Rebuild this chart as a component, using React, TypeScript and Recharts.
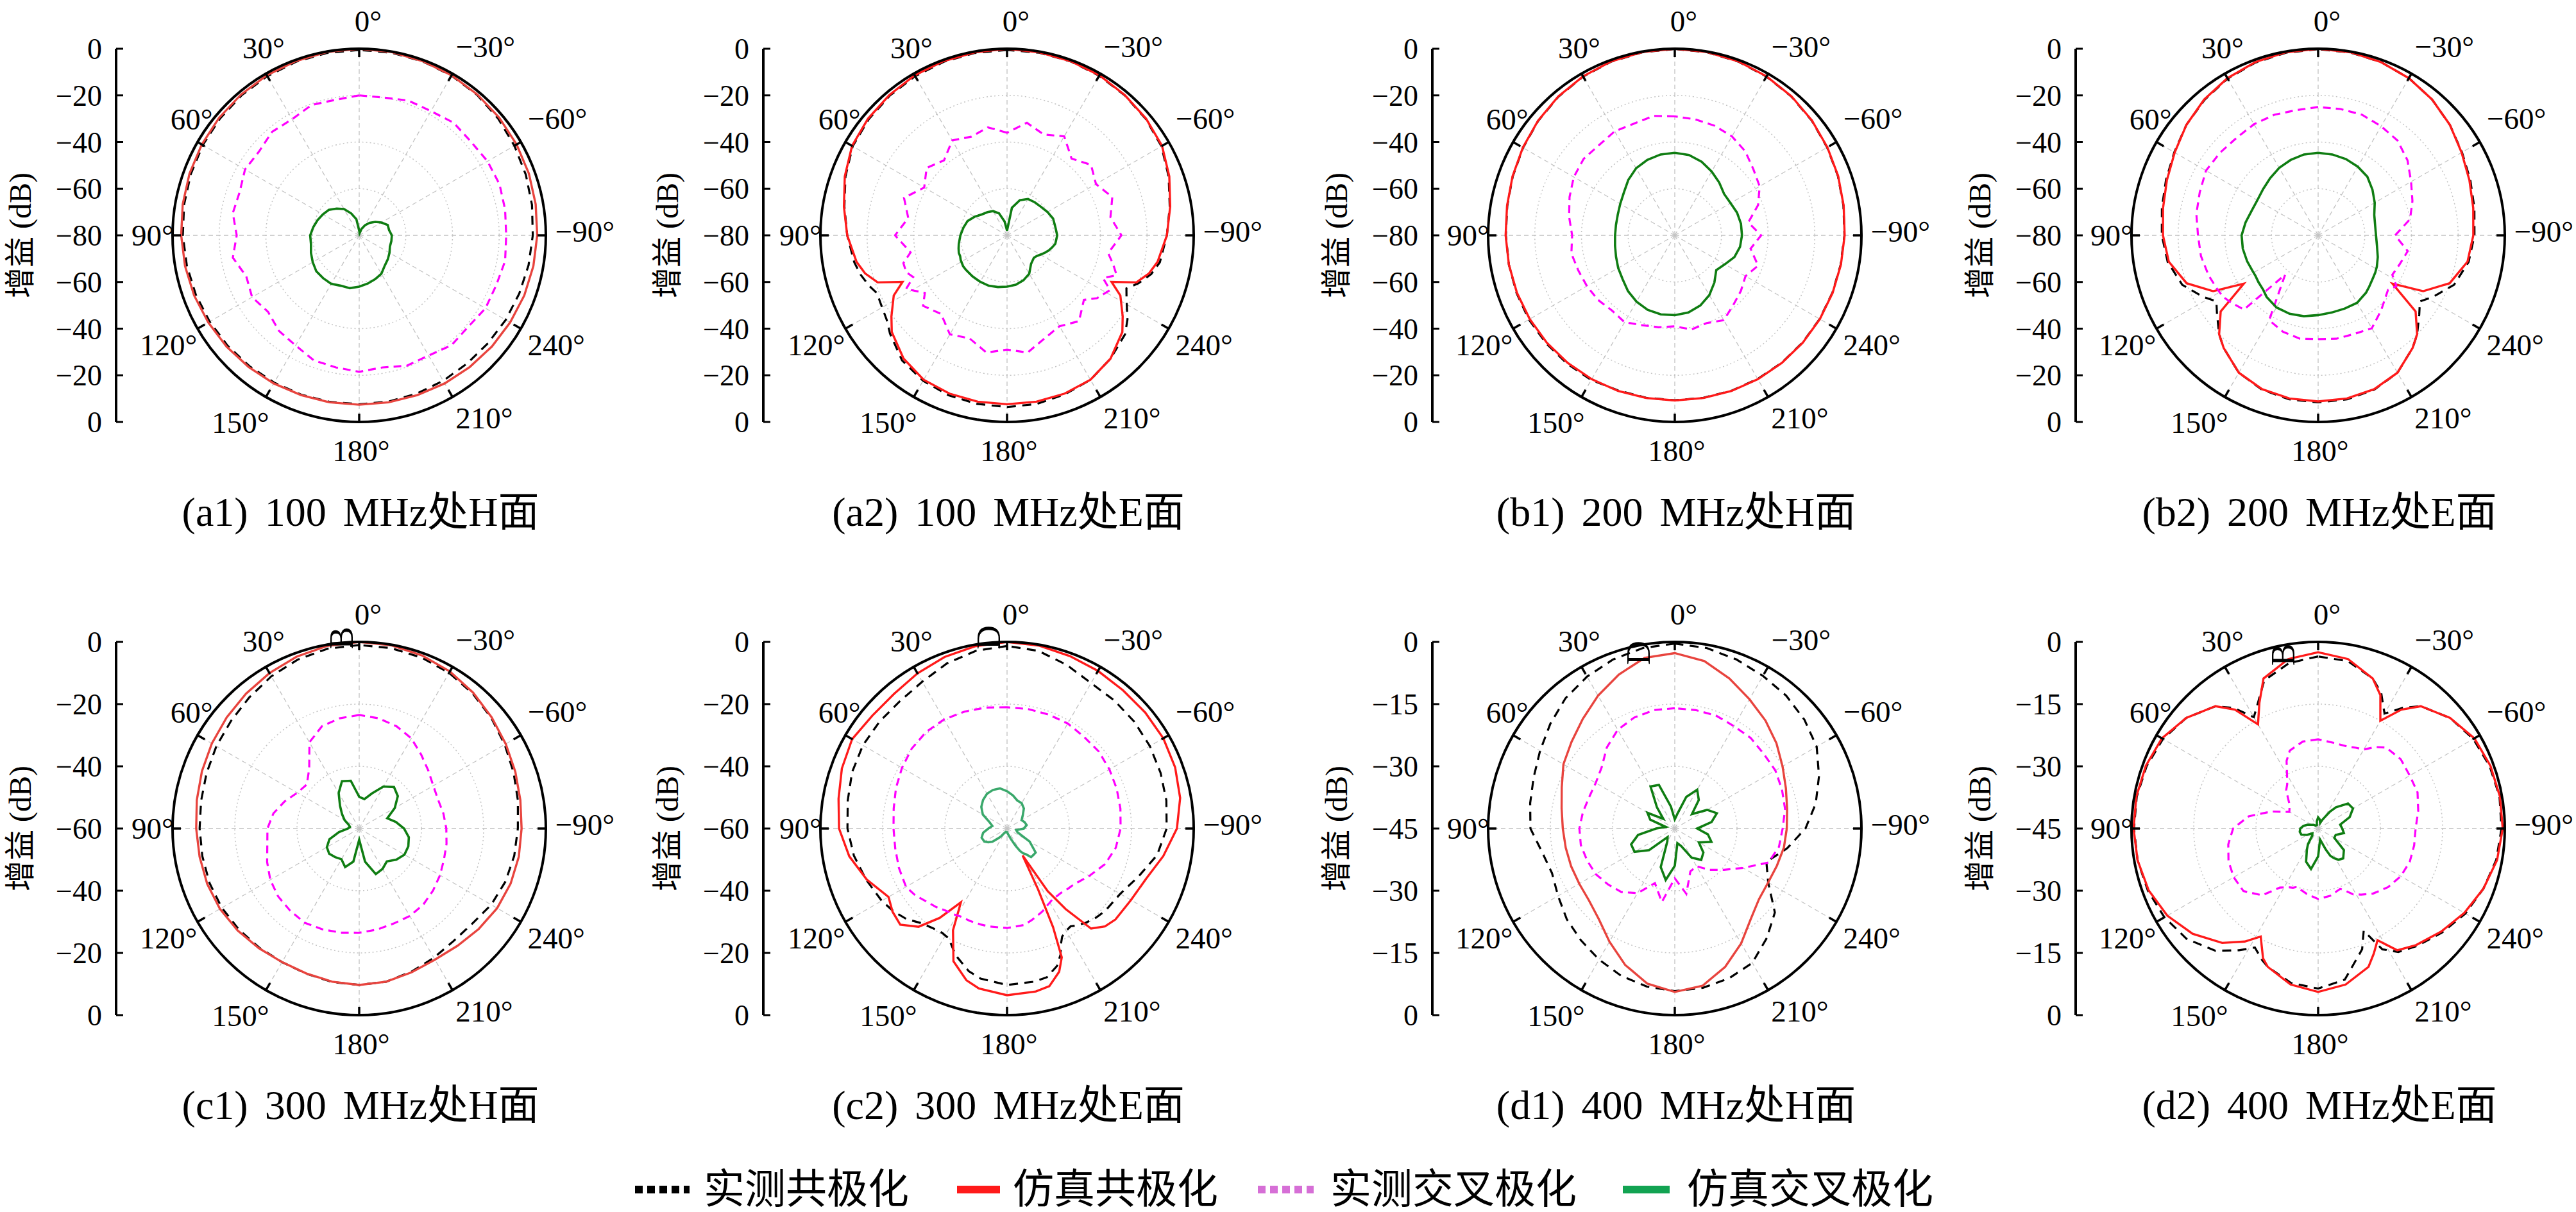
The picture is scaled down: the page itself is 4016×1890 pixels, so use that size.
import React from 'react';
import {
  RadarChart,
  Radar,
  PolarGrid,
  PolarAngleAxis,
  PolarRadiusAxis,
  LineChart,
  XAxis,
  YAxis,
} from 'recharts';

const FONT = "'Liberation Serif', 'DejaVu Serif', 'Noto Sans CJK SC', serif";
const R = 291;
const BOX = 920;
const C = BOX / 2;
const AXW = 180;
const TOPM = 40;

const COL_CX = [560, 1570, 2611, 3614];
const COL_AX = [181, 1190, 2233, 3236];
const ROW_CY = [367, 1292];

const ANGLE_TICKS = [0, 30, 60, 90, 120, 150, 180, 210, 240, 270, 300, 330];
const ANGLE_LABELS = ['0°', '30°', '60°', '90°', '120°', '150°', '180°', '210°', '240°', '−90°', '−60°', '−30°'];
const LABEL_NUDGE = [[14, 0], [18, -3], [28, -14], [12, 0], [-8, 4], [-18, 2], [3, 2], [28, -5], [18, 4], [18, -6], [20, -15], [30, -5]];

const RINGS_AB = [-60, -40, -20];
const RINGS_C = [-40, -20];
const RINGS_D = [-30, -15];
const LEFT_AB = [-80, -60, -40, -20, 0, 20, 40, 60, 80];
const LEFT_C = [-60, -40, -20, 0, 20, 40, 60];
const LEFT_D = [-45, -30, -15, 0, 15, 30, 45];

const ANG10 = [0, 10, 20, 30, 40, 50, 60, 70, 80, 90, 100, 110, 120, 130, 140, 150, 160, 170, 180, 190, 200, 210, 220, 230, 240, 250, 260, 270, 280, 290, 300, 310, 320, 330, 340, 350];

// (a1) 100 MHz H
const a1MeasCo = [-0.5, -0.6, -0.8, -1.2, -1.6, -2.1, -2.6, -3.2, -3.8, -4.4, -5, -5.5, -6, -6.4, -6.8, -7.1, -7.3, -7.5, -7.6, -7.6, -7.8, -8, -8.2, -8, -7.5, -7, -6.3, -5.6, -4.8, -4, -3.2, -2.2, -1.4, -0.9, -0.6, -0.5];
const a1SimCo = [0, -0.2, -0.5, -0.8, -1.2, -1.6, -2.1, -2.6, -3.2, -3.7, -4.2, -4.7, -5.3, -5.8, -6.3, -6.7, -7.1, -7.3, -7.4, -7.3, -7.1, -6.7, -6.3, -5.8, -5.3, -4.7, -4.2, -3.7, -3.2, -2.6, -2.1, -1.6, -1.2, -0.8, -0.5, -0.2];
const a1MeasX = [-20, -21, -20.5, -22.5, -22, -24, -23.5, -25.5, -25, -27.5, -25, -28.5, -27, -29, -26.5, -25.5, -23, -22.5, -21.5, -22.5, -20.5, -20.5, -18.5, -19, -17.5, -17.5, -16.5, -17, -16.5, -16, -16.5, -17.5, -17, -18.5, -18.5, -20];
const a1SimX = [-78, -73, -70, -67, -65, -63, -62, -61, -60, -59, -59, -58, -57, -56, -56, -56, -57, -57, -58, -59, -60, -61, -63, -64, -65, -66, -66, -66, -67, -67, -69, -71, -73, -75, -77, -79];

// (a2) 100 MHz E
const a2Ang = [0, 10, 20, 30, 40, 50, 60, 70, 80, 90, 100, 105, 110, 114, 118, 125, 130, 140, 150, 160, 170, 180, 190, 200, 210, 220, 230, 235, 242, 246, 250, 255, 260, 270, 280, 290, 300, 310, 320, 330, 340, 350];
const a2MeasCo = [-0.5, -0.6, -0.8, -1.2, -1.8, -2.6, -3.6, -6.3, -9.2, -11.5, -13.5, -15, -17, -19, -18.5, -17, -14.5, -10, -8, -7, -6.6, -6.4, -6.6, -7.5, -8.5, -11, -14, -17, -22, -24, -20, -16, -13.5, -11.5, -9.2, -6.3, -3.6, -2.4, -1.6, -1, -0.6, -0.5];
const a2SimCo = [0, -0.3, -0.5, -0.8, -1.5, -2.2, -3.3, -6, -9, -11.5, -14.5, -17, -21, -31, -25, -19.5, -15.5, -11, -8.5, -7.8, -7.6, -7.6, -7.6, -7.8, -8.5, -11, -15.5, -19.5, -25, -31, -21, -17, -14.5, -11.5, -9, -6, -3.3, -2.2, -1.5, -0.8, -0.5, -0.3];
const a2MeasX = [-36, -33, -35, -33, -38, -35, -39, -33, -37, -32, -38, -34, -34, -36, -31, -37, -33, -36, -31, -33, -29, -31, -29, -33, -35, -32, -37, -33, -30, -35, -30, -33, -36, -31, -35, -32, -36, -33, -37, -31, -34, -31];
const a2SimX = [-78, -74, -70, -68, -67, -66, -64, -62, -61, -60, -59, -58.5, -58, -58, -57.5, -57, -57, -57, -57, -57, -57.5, -58, -58.5, -59.5, -61, -64, -65, -64.5, -63, -62, -61, -60, -59, -58.5, -59, -59, -60, -61, -61.5, -62, -64, -68];

// (b1) 200 MHz H
const b1MeasCo = [-0.1, -0.3, -0.7, -1.4, -2.4, -3.6, -4.9, -6.1, -7.1, -7.6, -7.8, -7.8, -7.8, -8, -8.2, -8.4, -9.2, -9.3, -9.3, -9.3, -9.1, -8.9, -8.7, -8.5, -8.3, -8.1, -7.8, -7.3, -6.6, -5.6, -4.6, -3.4, -2.3, -1.4, -0.7, -0.3];
const b1SimCo = [0, -0.2, -0.6, -1.3, -2.3, -3.5, -4.8, -6, -7, -7.5, -7.8, -8, -8.2, -8.4, -8.6, -8.8, -9, -9.2, -9.2, -9.2, -9, -8.8, -8.6, -8.4, -8.2, -8, -7.7, -7.2, -6.5, -5.5, -4.5, -3.3, -2.2, -1.3, -0.6, -0.2];
const b1MeasX = [-29, -28, -29, -28.5, -29.5, -29, -30, -32, -34, -36, -35, -36, -36.5, -37, -38, -37, -39, -40, -41, -39, -40, -38, -41, -43, -45, -42, -47, -43, -48, -42, -38, -36, -33, -31, -30, -29.5];
const b1SimX = [-44.6, -44.8, -45.6, -46.8, -49, -51.5, -53, -54, -54.4, -54.4, -54, -53.2, -52, -50.8, -48.8, -47.2, -46, -45.6, -45.8, -46.4, -48, -50.4, -53.6, -56.8, -55.2, -52.8, -51.6, -51.2, -51.2, -51.6, -52.4, -52.4, -50.4, -48.4, -46.4, -45];

// (b2) 200 MHz E
const b2Ang = [0, 10, 20, 30, 40, 50, 60, 70, 80, 90, 100, 110, 118, 123, 128, 135, 140, 150, 160, 170, 180, 190, 200, 210, 220, 225, 232, 237, 242, 250, 260, 270, 280, 290, 300, 310, 320, 330, 340, 350];
const b2MeasCo = [-0.2, -0.5, -1.2, -2.4, -4.2, -6.3, -8.8, -10.6, -12, -13, -14.5, -18, -24, -28, -25, -20, -17, -12, -9.6, -8.6, -8.4, -8.6, -9.6, -12, -17, -20, -25, -28, -24, -18, -14.5, -13, -12, -10.6, -8.8, -6.3, -4, -2.2, -1, -0.4];
const b2SimCo = [0, -0.3, -1, -2.2, -4, -6.3, -9, -11, -12.5, -13.5, -15, -20, -29, -42, -27, -20, -17, -12, -9.8, -9, -8.8, -9, -9.8, -12, -17, -20, -27, -42, -29, -20, -15, -13.5, -12.5, -11, -9, -6.3, -4, -2.2, -1, -0.3];
const b2MeasX = [-25, -25.5, -25, -25, -25.5, -25, -24.5, -26, -27, -28.5, -29, -30, -31, -31.5, -33, -35, -58, -38, -36, -35, -35.5, -35, -35, -34, -38, -40, -42, -40, -44, -43, -41, -47, -40, -37, -34, -30, -27, -26, -25, -25];
const b2SimX = [-44.6, -44.8, -45.6, -46.6, -48, -49.2, -49.9, -49.6, -48.4, -47.2, -47.2, -47.6, -48, -48, -47.5, -46.8, -45.6, -44.3, -44.2, -44.8, -45.8, -46.4, -46.6, -46.6, -48, -49, -50.2, -50.8, -51.5, -52.8, -54.4, -55.2, -55.2, -54.4, -52, -49.6, -47.2, -46, -45.2, -44.8];

// (c1) 300 MHz H
const c1MeasCo = [-1, -1.3, -2.2, -3.5, -5, -6.2, -7, -7.8, -8.4, -8.7, -8.8, -8.8, -9, -9.5, -10, -10.4, -10.3, -9.9, -9.7, -10, -11, -12, -12.8, -12.5, -11, -10, -9.4, -9, -8.2, -7.2, -6, -4.6, -3.3, -2.2, -1.5, -1.1];
const c1SimCo = [0, -0.4, -1.2, -2.3, -3.4, -4.4, -5.3, -6.2, -7, -7.6, -7.9, -8, -8.3, -9, -9.8, -10.4, -10.4, -10, -9.7, -10, -10.8, -11.3, -10.8, -9.8, -8.8, -8.2, -7.9, -7.8, -7.4, -6.6, -5.6, -4.4, -3, -1.7, -0.8, -0.2];
const c1MeasX = [-23.5, -24, -25, -28, -35, -38, -37, -34.5, -32, -30.5, -30, -28.5, -27, -26, -25.5, -25, -25.5, -26, -26.5, -27, -27.5, -27.5, -28, -29, -30, -31, -31.5, -32, -32.5, -33, -32.5, -31, -29, -26.5, -25, -24];
const c1SimX = [-49.8, -44.4, -43.8, -46.8, -50.4, -52.8, -54.6, -56.4, -57, -56.4, -53.4, -49.8, -48, -47.4, -48, -48.6, -46.8, -49.2, -56.4, -49.2, -44.4, -45, -46.2, -44.4, -43.2, -43.2, -43.8, -45.6, -48, -50.4, -46.8, -43.8, -42.6, -44.4, -48, -50.4];

// (c2) 300 MHz E
const c2Ang = [0, 10, 20, 30, 40, 50, 60, 70, 80, 90, 100, 110, 120, 126, 132, 138, 143, 148, 152, 158, 165, 170, 180, 190, 195, 200, 203, 205, 207, 210, 213, 216, 220, 225, 230, 240, 250, 260, 270, 280, 290, 300, 310, 320, 330, 340, 350];
const c2MeasCo = [-1.3, -2, -3.5, -5.5, -6.5, -6.5, -6.5, -7, -8, -8.7, -10, -11.8, -13.5, -14.8, -16.5, -19, -20, -20.5, -20, -16, -12.5, -11, -9.7, -10, -10.5, -13, -16, -19, -21, -22, -22.5, -21.5, -20.5, -19.5, -18.8, -18, -15, -11, -8.7, -8, -7.5, -7, -6.6, -6.3, -6, -4, -2];
const c2SimCo = [0, -0.5, -1.3, -2.4, -3.5, -3.5, -2.5, -3.5, -5, -6, -8.5, -12, -16, -14.5, -13.8, -17.5, -24, -32, -23, -14, -9.5, -7.8, -6.4, -6.8, -7.5, -11, -15, -25, -38, -50, -36, -28, -18, -15.5, -14.5, -14, -12.5, -9, -5.4, -3.5, -2.5, -2, -2, -2, -1.5, -1, -0.3];
const c2MeasX = [-21, -20.5, -20, -19.5, -19.5, -20, -21, -22, -23, -23.5, -23.5, -23, -22.5, -23.5, -25, -26, -27, -27.5, -28, -28, -28, -28, -28, -28.5, -29.5, -30.5, -31, -31.5, -32, -32.5, -33, -33, -33, -32.5, -32, -29.5, -26.5, -24.5, -23.5, -23, -22.5, -22, -21.5, -21.5, -21, -21, -21];
const c2SimX = [-48, -46.9, -46.8, -47.1, -48, -49.2, -51, -54, -55.2, -54, -52.2, -51.3, -51.6, -52.5, -53.7, -55.8, -57, -58.2, -58.5, -58.8, -58.8, -58.8, -58.8, -58.2, -57.6, -56.4, -55.5, -54.5, -53.5, -51.6, -50.5, -49.8, -48, -48, -48, -51.6, -56.4, -57, -54.6, -53.6, -54, -54.6, -53.4, -51.6, -50.6, -50.4, -49.2];

// (d1) 400 MHz H
const d1MeasCo = [-0.4, -0.8, -1.6, -2.7, -4, -5.8, -7.5, -8.8, -9.6, -10.2, -12.5, -13.5, -12.5, -11, -9.8, -8.5, -7.2, -6.3, -5.8, -6, -6.6, -7.6, -10.5, -13.5, -19, -21.5, -17.5, -13.5, -10.5, -8, -5.5, -4.2, -3.2, -2.5, -1.6, -0.8];
const d1SimCo = [-2.7, -3.2, -5.5, -8, -10.5, -12.5, -14, -16, -17.3, -18, -18.3, -18.4, -18.4, -18, -16.5, -13.5, -10, -7, -5.6, -6.5, -9.5, -13, -16.5, -18.5, -19, -18.8, -18.3, -18, -17.5, -16.5, -15, -13, -11, -9, -6.5, -4];
const d1MeasX = [-16, -16, -16.5, -17.5, -19.5, -22, -23, -23, -22.5, -22, -22, -22.5, -23, -24, -25, -27, -31, -27, -33, -29, -34, -34.5, -32, -29.5, -26, -21, -19.5, -19, -18, -17.5, -17, -17, -16.5, -16.5, -16, -16];
const d1SimX = [-42.8, -39.6, -33.8, -33.3, -38.3, -41.4, -37.4, -38.7, -42.8, -40.5, -36, -33.8, -33.8, -36.9, -42.3, -41.4, -35.1, -32.4, -36, -41.4, -40.5, -36.9, -35.1, -36, -38.3, -35.6, -36.9, -39.6, -36, -34.2, -36, -39.6, -36, -34.2, -36.9, -41.4];

// (d2) 400 MHz E
const d2Ang = [0, 10, 20, 25, 30, 35, 40, 50, 60, 70, 80, 90, 100, 110, 120, 130, 140, 147, 152, 157, 160, 170, 180, 190, 200, 204, 208, 213, 220, 230, 240, 250, 260, 270, 280, 290, 300, 310, 320, 325, 330, 335, 340, 350];
const d2MeasCo = [-3.5, -4.5, -7, -11, -14, -9.5, -6.5, -3.5, -1.8, -1, -0.6, -0.6, -0.8, -1.3, -2.2, -3.6, -6.5, -10, -12.5, -10.5, -9.5, -7.2, -6.4, -8, -14, -18, -12, -9.5, -8, -6, -4, -2.6, -1.4, -0.8, -0.6, -1, -1.8, -3.5, -6.5, -9.5, -13, -9, -6.5, -4];
const d2SimCo = [-2.5, -3.5, -6.5, -11.5, -16, -10, -6.5, -3.5, -1.5, -0.8, -0.5, -0.5, -0.8, -1.5, -3, -5.5, -9, -12.5, -15.5, -11, -9.5, -6.8, -5.6, -6.8, -9.5, -12, -14.5, -10, -8.3, -6.3, -4.3, -2.6, -1.2, -0.5, -0.5, -0.8, -1.5, -3.5, -6.5, -10, -15, -9.5, -6.5, -3.5];
const d2MeasX = [-23.5, -23.7, -25, -27, -30, -32, -33, -36, -37, -33, -28, -24.5, -23, -22, -21.5, -21.5, -24, -28, -29, -29.5, -30, -29, -28, -28.5, -29.5, -28.5, -27, -26, -24.5, -23, -22, -21.5, -21.5, -21.5, -20.5, -19.5, -19.5, -19, -19.5, -21, -23, -23.5, -24, -24];
const d2SimX = [-42.3, -43.2, -44.1, -44.1, -44.1, -44.1, -44.1, -43.6, -43.2, -42.3, -41.4, -40.7, -40.5, -40.7, -41.9, -43.2, -42.8, -40.5, -39.2, -37.8, -36.5, -35.1, -38.3, -42.3, -39.6, -37.8, -36.9, -36, -35.6, -36.9, -40.5, -40.5, -38.7, -39.2, -39.6, -36.9, -35.3, -35.6, -38.3, -40, -41.9, -42.8, -43.6, -42.8];

const RED = '#ff1a1a';
const RED_LIGHT = '#e8443e';
const GREEN = '#0f7d12';
const GREEN_LIGHT = '#3aa86b';
const MAGENTA = '#ff00ff';

interface Panel {
  title: string;
  min: number;
  rings: number[];
  left: number[];
  angles: number[];
  measCo: number[];
  simCo: number[];
  measX: number[];
  simX: number[];
  red: string;
  green: string;
  stray?: { ch: string; dx: number; dy: number };
}

const panels: Panel[] = [
  { title: '(a1) 100 MHz处H面', min: -80, rings: RINGS_AB, left: LEFT_AB, angles: ANG10, measCo: a1MeasCo, simCo: a1SimCo, measX: a1MeasX, simX: a1SimX, red: RED_LIGHT, green: GREEN },
  { title: '(a2) 100 MHz处E面', min: -80, rings: RINGS_AB, left: LEFT_AB, angles: a2Ang, measCo: a2MeasCo, simCo: a2SimCo, measX: a2MeasX, simX: a2SimX, red: RED, green: GREEN },
  { title: '(b1) 200 MHz处H面', min: -80, rings: RINGS_AB, left: LEFT_AB, angles: ANG10, measCo: b1MeasCo, simCo: b1SimCo, measX: b1MeasX, simX: b1SimX, red: RED, green: GREEN },
  { title: '(b2) 200 MHz处E面', min: -80, rings: RINGS_AB, left: LEFT_AB, angles: b2Ang, measCo: b2MeasCo, simCo: b2SimCo, measX: b2MeasX, simX: b2SimX, red: RED, green: GREEN },
  { title: '(c1) 300 MHz处H面', min: -60, rings: RINGS_C, left: LEFT_C, angles: ANG10, measCo: c1MeasCo, simCo: c1SimCo, measX: c1MeasX, simX: c1SimX, red: RED_LIGHT, green: GREEN, stray: { ch: 'B', dx: -27, dy: -297 } },
  { title: '(c2) 300 MHz处E面', min: -60, rings: RINGS_C, left: LEFT_C, angles: c2Ang, measCo: c2MeasCo, simCo: c2SimCo, measX: c2MeasX, simX: c2SimX, red: RED, green: GREEN_LIGHT, stray: { ch: 'D', dx: -28, dy: -298 } },
  { title: '(d1) 400 MHz处H面', min: -45, rings: RINGS_D, left: LEFT_D, angles: ANG10, measCo: d1MeasCo, simCo: d1SimCo, measX: d1MeasX, simX: d1SimX, red: RED_LIGHT, green: GREEN, stray: { ch: 'D', dx: -56, dy: -274 } },
  { title: '(d2) 400 MHz处E面', min: -45, rings: RINGS_D, left: LEFT_D, angles: d2Ang, measCo: d2MeasCo, simCo: d2SimCo, measX: d2MeasX, simX: d2SimX, red: RED, green: GREEN, stray: { ch: 'B', dx: -54, dy: -271 } },
];

const fmt = (n: number) => (n === 0 ? '0' : `−${Math.abs(n)}`);

const AngleTick = (props: any) => {
  const v = props.payload?.value;
  const i = ANGLE_TICKS.indexOf(v);
  if (i < 0) return null;
  const rad = ((90 + v) * Math.PI) / 180;
  const ox = Math.cos(rad);
  const oy = -Math.sin(rad);
  const [nx, ny] = LABEL_NUDGE[i];
  return (
    <g>
      <line x1={C + ox * R} y1={C + oy * R} x2={C + ox * (R - 13)} y2={C + oy * (R - 13)} stroke="#000" strokeWidth={3.5} />
      <text
        x={C + ox * (R + 43) + nx}
        y={C + oy * (R + 43) + ny}
        dy="0.35em"
        textAnchor="middle"
        fontSize={47}
        fontFamily={FONT}
        fill="#000"
      >
        {ANGLE_LABELS[i]}
      </text>
    </g>
  );
};

const makeLeftTick = (min: number) => (props: any) => {
  const { y, payload } = props;
  const n = Math.abs(payload.value) + min;
  return (
    <g>
      <line x1={AXW} x2={AXW + 11} y1={y} y2={y} stroke="#000" strokeWidth={3} />
      <text x={AXW - 22} y={y} dy="0.35em" textAnchor="end" fontSize={46} fontFamily={FONT} fill="#000">
        {fmt(n)}
      </text>
    </g>
  );
};

const AxisTitle = () => {
  const x = AXW - 150;
  const y = TOPM + R;
  return (
    <text x={x} y={y} dy="0.35em" textAnchor="middle" fontSize={48} fontFamily={FONT} fill="#000" transform={`rotate(-90 ${x} ${y})`}>
      增益 (dB)
    </text>
  );
};

const PolarPanel: React.FC<{ p: Panel; col: number; row: number }> = ({ p, col, row }) => {
  const cx = COL_CX[col];
  const cy = ROW_CY[row];
  const ax = COL_AX[col];
  const rows = p.angles.map((ang, i) => ({
    ang,
    mc: p.measCo[i],
    sc: p.simCo[i],
    mx: p.measX[i],
    sx: p.simX[i],
  }));
  const span = -p.min;
  const ringR = p.rings.map((db) => ((db - p.min) / span) * R);
  const leftData = p.left.map((v) => ({ v }));
  return (
    <>
      <div style={{ position: 'absolute', left: ax - AXW, top: cy - R - TOPM }}>
        <LineChart width={AXW + 20} height={2 * R + 2 * TOPM} data={leftData} margin={{ top: TOPM, bottom: TOPM, left: 0, right: 20 }}>
          <XAxis hide />
          <YAxis
            type="number"
            domain={[-span, span]}
            ticks={p.left}
            interval={0}
            allowDataOverflow
            width={AXW}
            axisLine={{ stroke: '#000', strokeWidth: 4 }}
            tickLine={false}
            tick={makeLeftTick(p.min)}
            label={<AxisTitle />}
          />
        </LineChart>
      </div>
      <div style={{ position: 'absolute', left: cx - C, top: cy - C }}>
        <RadarChart
          width={BOX}
          height={BOX}
          cx={C}
          cy={C}
          innerRadius={0}
          outerRadius={R}
          startAngle={90}
          endAngle={450}
          data={rows}
          margin={{ top: 0, right: 0, bottom: 0, left: 0 }}
        >
          <PolarGrid gridType="circle" radialLines={false} polarRadius={ringR} stroke="#c4c4c4" strokeDasharray="2 4" strokeWidth={1.5} />
          <PolarGrid gridType="circle" polarRadius={[R]} polarAngles={ANGLE_TICKS} stroke="#c2c2c2" strokeDasharray="7 5" strokeWidth={1.3} />
          <PolarRadiusAxis angle={90} type="number" domain={[p.min, 0]} allowDataOverflow tick={false} axisLine={false} />
          <PolarAngleAxis
            dataKey="ang"
            type="number"
            domain={[0, 360]}
            ticks={ANGLE_TICKS}
            axisLineType="circle"
            axisLine={{ stroke: '#000', strokeWidth: 4 }}
            tickLine={false}
            tick={<AngleTick />}
          />
          <Radar dataKey="mc" stroke="#000" strokeWidth={3.2} strokeDasharray="14 10" fill="none" fillOpacity={0} dot={false} isAnimationActive={false} />
          <Radar dataKey="sc" stroke={p.red} strokeWidth={3.4} fill="none" fillOpacity={0} dot={false} isAnimationActive={false} />
          <Radar dataKey="mx" stroke={MAGENTA} strokeWidth={3.2} strokeDasharray="12 8" fill="none" fillOpacity={0} dot={false} isAnimationActive={false} />
          <Radar dataKey="sx" stroke={p.green} strokeWidth={3.6} fill="none" fillOpacity={0} dot={false} isAnimationActive={false} />
        </RadarChart>
      </div>
      {p.stray && (
        <div
          style={{
            position: 'absolute',
            left: cx + p.stray.dx,
            top: cy + p.stray.dy,
            transform: 'translate(-50%, -50%) rotate(-90deg)',
            fontFamily: FONT,
            fontSize: 52,
            lineHeight: 1,
          }}
        >
          {p.stray.ch}
        </div>
      )}
      <div
        style={{
          position: 'absolute',
          left: cx + 2,
          top: cy + 432,
          transform: 'translate(-50%, -50%)',
          fontFamily: FONT,
          fontSize: 64,
          wordSpacing: 10,
          whiteSpace: 'nowrap',
          lineHeight: 1,
        }}
      >
        {p.title}
      </div>
    </>
  );
};

const legendItems = [
  { name: '实测共极化', color: '#000', dash: '12 7', x: 990, w: 85, tx: 1097 },
  { name: '仿真共极化', color: RED, dash: undefined, x: 1492, w: 67, tx: 1579 },
  { name: '实测交叉极化', color: '#d66fd6', dash: '12 7', x: 1961, w: 87, tx: 2074 },
  { name: '仿真交叉极化', color: '#12a352', dash: undefined, x: 2530, w: 73, tx: 2630 },
];

const App: React.FC = () => {
  return (
    <div style={{ position: 'absolute', left: 0, top: 0, width: 4016, height: 1890, background: '#fff', overflow: 'hidden' }}>
      {panels.map((p, i) => (
        <PolarPanel key={p.title} p={p} col={i % 4} row={Math.floor(i / 4)} />
      ))}
      {legendItems.map((it) => (
        <React.Fragment key={it.name}>
          <svg style={{ position: 'absolute', left: it.x, top: 1855 - 10 }} width={it.w} height={20}>
            <line x1={0} x2={it.w} y1={10} y2={10} stroke={it.color} strokeWidth={12} strokeDasharray={it.dash} />
          </svg>
          <div
            style={{
              position: 'absolute',
              left: it.tx,
              top: 1855,
              transform: 'translateY(-50%)',
              fontFamily: FONT,
              fontSize: 64,
              lineHeight: 1,
              whiteSpace: 'nowrap',
            }}
          >
            {it.name}
          </div>
        </React.Fragment>
      ))}
    </div>
  );
};

export default App;
